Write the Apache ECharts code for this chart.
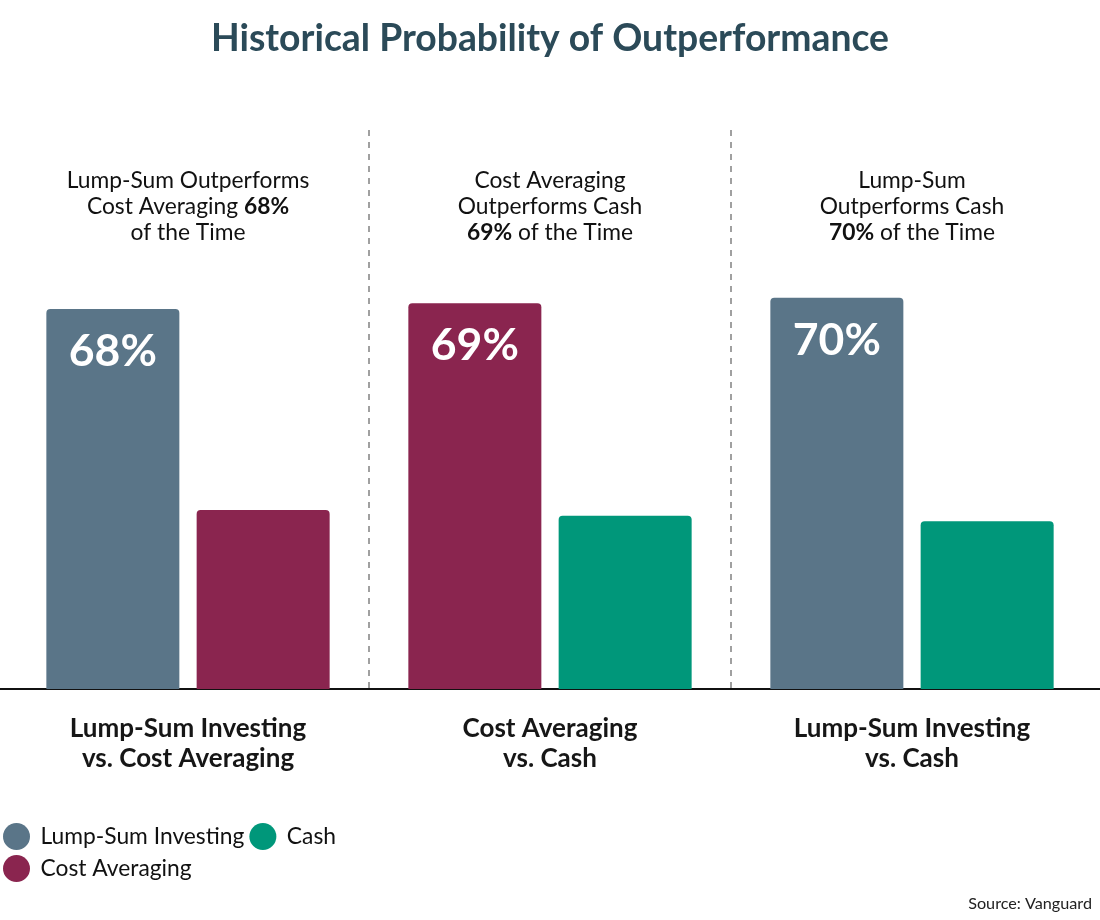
<!DOCTYPE html>
<html>
<head>
<meta charset="utf-8">
<script src="https://cdn.jsdelivr.net/npm/echarts@6/dist/echarts.min.js"></script>
<style>
  html, body { margin: 0; padding: 0; background: #ffffff; }
  #chart { width: 1100px; height: 920px; }
</style>
</head>
<body>
<div id="chart"></div>
<script>
// ---- data ----
const categories = [
  'Lump-Sum Investing\nvs. Cost Averaging',
  'Cost Averaging\nvs. Cash',
  'Lump-Sum Investing\nvs. Cash'
];
const annotations = [
  'Lump-Sum Outperforms\nCost Averaging {b|68%}\nof the Time',
  'Cost Averaging\nOutperforms Cash\n{b|69%} of the Time',
  'Lump-Sum\nOutperforms Cash\n{b|70%} of the Time'
];
// left bar in each group
const lumpSumValues = [68, '-', 70];
const costAvgLeftValues = ['-', 69, '-'];
// right bar in each group
const costAvgRightValues = [32, '-', '-'];
const cashValues = ['-', 31, 30];
const legendNames = ['Lump-Sum Investing', 'Cash', 'Cost Averaging'];

const COLORS = {
  lump: '#5a7588',
  cost: '#8a254f',
  cash: '#00977a'
};
const FONT = 'Lato, "Open Sans", sans-serif';

const chart = echarts.init(document.getElementById('chart'), null, { renderer: 'canvas' });

const barLabel = {
  show: true,
  position: 'insideTop',
  distance: 20,
  formatter: '{c}%',
  color: '#ffffff',
  fontFamily: FONT,
  fontWeight: 'bold',
  fontSize: 44.5
};

const option = {
  backgroundColor: '#ffffff',
  textStyle: { fontFamily: FONT },
  title: [
    {
      text: 'Historical Probability of Outperformance',
      left: 'center',
      top: 15,
      textStyle: { fontFamily: FONT, fontSize: 37.3, fontWeight: 'bold', color: '#2b4a58' }
    },
    {
      text: 'Source: Vanguard',
      right: 3,
      top: 891,
      textStyle: { fontFamily: FONT, fontSize: 16.2, fontWeight: 'normal', color: '#222222' }
    }
  ],
  legend: {
    data: legendNames,
    left: -2,
    top: 818,
    width: 385,
    orient: 'horizontal',
    icon: 'circle',
    itemWidth: 38,
    itemHeight: 27,
    itemGap: 5,
    textStyle: { fontFamily: FONT, fontSize: 22.8, color: '#111111', padding: [0, 4, 0, 0] }
  },
  grid: [
    { left: 7, right: 7, top: 130, bottom: 231, containLabel: false },
    { left: 0, right: 0, top: 130, bottom: 231, containLabel: false }
  ],
  xAxis: [
    {
      type: 'category',
      gridIndex: 0,
      data: categories,
      position: 'bottom',
      axisLine: { show: false },
      axisTick: { show: false },
      axisLabel: {
        margin: 25,
        fontFamily: FONT,
        fontSize: 26,
        fontWeight: 'bold',
        lineHeight: 30,
        color: '#161616'
      },
      splitLine: {
        show: true,
        showMinLine: false,
        showMaxLine: false,
        lineStyle: { color: '#a0a0a0', width: 2, type: [6, 6] }
      }
    },
    {
      type: 'category',
      gridIndex: 0,
      data: annotations,
      position: 'top',
      offset: -121,
      axisLine: { show: false },
      axisTick: { show: false },
      splitLine: { show: false },
      axisLabel: {
        margin: 5,
        fontFamily: FONT,
        fontSize: 22.8,
        lineHeight: 26,
        color: '#111111',
        rich: {
          b: { fontFamily: FONT, fontSize: 22.8, fontWeight: 'bold', lineHeight: 26, color: '#111111' }
        }
      }
    },
    {
      type: 'category',
      gridIndex: 1,
      data: [''],
      axisLine: { show: true, lineStyle: { color: '#111111', width: 2 } },
      axisTick: { show: false },
      axisLabel: { show: false },
      splitLine: { show: false }
    }
  ],
  yAxis: [
    { type: 'value', gridIndex: 0, min: 0, max: 100, show: false },
    { type: 'value', gridIndex: 1, min: 0, max: 100, show: false }
  ],
  series: [
    {
      name: 'Lump-Sum Investing',
      type: 'bar',
      xAxisIndex: 0, yAxisIndex: 0,
      stack: 'left',
      data: lumpSumValues,
      barWidth: 133,
      barGap: '13%',
      barCategoryGap: '22%',
      itemStyle: { color: COLORS.lump, borderRadius: [4, 4, 0, 0] },
      label: barLabel,
      z: 3
    },
    {
      name: 'Cost Averaging',
      type: 'bar',
      xAxisIndex: 0, yAxisIndex: 0,
      stack: 'left',
      data: costAvgLeftValues,
      barWidth: 133,
      itemStyle: { color: COLORS.cost, borderRadius: [4, 4, 0, 0] },
      label: barLabel,
      z: 3
    },
    {
      name: 'Cost Averaging',
      type: 'bar',
      xAxisIndex: 0, yAxisIndex: 0,
      stack: 'right',
      data: costAvgRightValues,
      barWidth: 133,
      itemStyle: { color: COLORS.cost, borderRadius: [4, 4, 0, 0] },
      label: { show: false },
      z: 3
    },
    {
      name: 'Cash',
      type: 'bar',
      xAxisIndex: 0, yAxisIndex: 0,
      stack: 'right',
      data: cashValues,
      barWidth: 133,
      itemStyle: { color: COLORS.cash, borderRadius: [4, 4, 0, 0] },
      label: { show: false },
      z: 3
    }
  ]
};

chart.setOption(option);
</script>
</body>
</html>
